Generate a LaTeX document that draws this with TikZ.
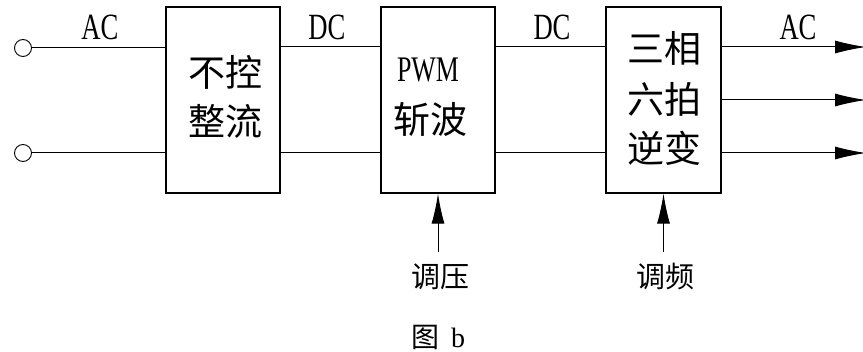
\documentclass[tikz,border=0pt]{standalone}
\usepackage{fontspec}
\setmainfont{Liberation Serif}
\newfontfamily\cjk{Noto Sans CJK SC}
\newfontfamily\narrow[FakeStretch=0.72]{Liberation Serif}
\usetikzlibrary{arrows.meta}
\tikzset{
  blockbox/.style={draw, line width=1.3pt, minimum width=114pt, minimum height=186pt, inner sep=0pt},
  boxtext/.style={inner sep=0pt, font=\cjk\fontsize{37}{37}\selectfont},
  sigtext/.style={inner sep=0pt, anchor=base, font=\narrow\fontsize{37}{37}\selectfont},
  smalltext/.style={inner sep=0pt, font=\cjk\fontsize{29}{29}\selectfont},
  terminal/.style={draw, circle, minimum size=17pt, inner sep=0pt, line width=0.9pt},
  wire/.style={line width=1pt},
  outarrow/.style={wire, -{Latex[length=31pt,width=13pt]}},
  uparrow/.style={wire, -{Latex[length=30pt,width=13pt]}}
}
\begin{document}
\begin{tikzpicture}[x=1pt,y=-1pt]
\useasboundingbox (0,0) rectangle (863,352);
\coordinate (t) at (0,47);
\coordinate (m) at (0,100);
\coordinate (bt) at (0,153);
% blocks
\node[blockbox] (b1) at (223,100) {};
\node[blockbox] (b2) at (438,100) {};
\node[blockbox, minimum width=115pt] (b3) at (663.5,100) {};
% block texts
\node[boxtext] (b1a) at (225,72) {不控};
\node[boxtext] (b1b) at (225,121) {整流};
\node[sigtext, font=\narrow\fontsize{36}{36}\selectfont] (b2a) at (428,82) {PWM};
\node[boxtext] (b2b) at (430,119) {斩波};
\node[boxtext] (b3a) at (664,48) {三相};
\node[boxtext] (b3b) at (664,99) {六拍};
\node[boxtext] (b3c) at (664,148) {逆变};
% input terminals
\node[terminal] (c1) at (23,48) {};
\node[terminal] (c2) at (23,153) {};
\draw[wire] (c1) -- (c1 -| b1.west);
\draw[wire] (c2) -- (c2 -| b1.west);
% between blocks
\draw[wire] (b1.east |- t) -- (b2.west |- t);
\draw[wire] (b1.east |- bt) -- (b2.west |- bt);
\draw[wire] (b2.east |- t) -- (b3.west |- t);
\draw[wire] (b2.east |- bt) -- (b3.west |- bt);
% outputs
\coordinate (o1) at (866,47);
\coordinate (o2) at (866,100);
\coordinate (o3) at (866,153);
\draw[outarrow] (b3.east |- o1) -- (o1);
\draw[outarrow] (b3.east |- o2) -- (o2);
\draw[outarrow] (b3.east |- o3) -- (o3);
% signal labels
\node[sigtext] (l1) at (100,40) {AC};
\node[sigtext] (l2) at (327,40) {DC};
\node[sigtext] (l3) at (552,40) {DC};
\node[sigtext] (l4) at (798,40) {AC};
% control inputs
\coordinate (u1) at (438,252);
\coordinate (u2) at (663.5,252);
\draw[uparrow] (u1) -- (b2.south);
\draw[uparrow] (u2) -- (b3.south);
\node[smalltext] (k1) at (440,277) {调压};
\node[smalltext] (k2) at (665,277) {调频};
\node[inner sep=0pt] (cap) at (438,337) {{\cjk\fontsize{28}{28}\selectfont 图}\hspace{12pt}{\fontsize{28}{28}\selectfont b}};
\end{tikzpicture}
\end{document}
